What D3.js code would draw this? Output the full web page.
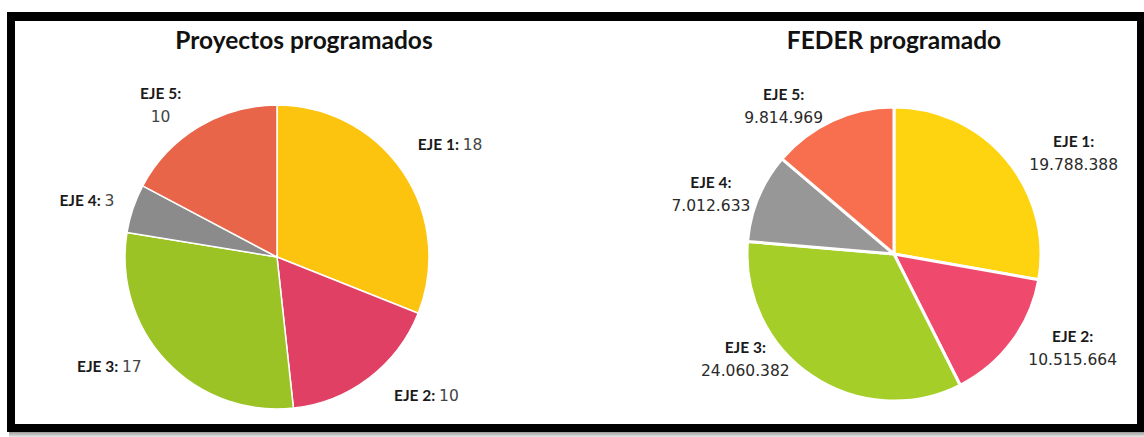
<!DOCTYPE html>
<html><head><meta charset="utf-8">
<script src="https://cdn.jsdelivr.net/npm/d3@7"></script>
<style>html,body{margin:0;padding:0;background:#fff;}svg{display:block;}</style>
</head><body>
<svg id="c" width="1144" height="437"></svg>
<script>
// ---- data ----
const categories = ["EJE 1", "EJE 2", "EJE 3", "EJE 4", "EJE 5"];
const proyectos = [18, 10, 17, 3, 10];
const feder = [19788388, 10515664, 24060382, 7012633, 9814969];
const titles = ["Proyectos programados", "FEDER programado"];
const colorsLeft = ["#FCC40E", "#E04064", "#9BC325", "#8B8B8B", "#E8654A"];
const colorsRight = ["#FED310", "#EF4A6E", "#A5CE28", "#979797", "#F76F4F"];

// ---- layout (not data) ----
const labelNudgeLeft = [[7, 1], [28, -21], [-22, -28], [0, 8], [-13, 20]];
const labelNudgeRight = [[31, 24], [23, -22], [-40, -56], [-4, 15], [-29, 28]];

const svg = d3.select("#c");
// shadow + frame
const g0 = svg.append("defs").append("linearGradient").attr("id","sh").attr("x1",0).attr("y1",0).attr("x2",0).attr("y2",1);
g0.append("stop").attr("offset","0").attr("stop-color","#9a9a9a");
g0.append("stop").attr("offset","1").attr("stop-color","#e8e8e8");
svg.append("rect").attr("x",9).attr("y",432).attr("width",1135).attr("height",5).attr("fill","url(#sh)");
svg.append("rect").attr("x",7).attr("y",12).attr("width",1137).attr("height",420).attr("fill","#000");
svg.append("rect").attr("x",15).attr("y",21).attr("width",1122).attr("height",403).attr("fill","#fff");

const fmt = d3.format(",d");
const fmtES = v => fmt(v).replace(/,/g, ".");

function drawPie(opts) {
  const {cx, cy, r, values, colors, title, titleX, nudge, twoLine, strokeW, valueColor} = opts;
  const pie = d3.pie().sort(null).value(d => d)(values);
  const arc = d3.arc().innerRadius(0).outerRadius(r);
  const labArc = d3.arc().innerRadius(r * 1.32).outerRadius(r * 1.32);
  const g = svg.append("g").attr("transform", `translate(${cx},${cy})`);
  g.selectAll("path.s").data(pie).join("path")
    .attr("class","s")
    .attr("d", arc)
    .attr("fill", (d, i) => colors[i])
    .attr("stroke", "#fff")
    .attr("stroke-width", strokeW)
    .attr("stroke-linejoin", "round");

  svg.append("text").attr("x", titleX).attr("y", 49)
    .attr("text-anchor","middle")
    .attr("font-family","Lato, 'Open Sans', sans-serif")
    .attr("font-weight","bold").attr("font-size", 24.5)
    .attr("fill","#111").text(title);

  pie.forEach((d, i) => {
    const [px, py] = labArc.centroid(d);
    const x = px + nudge[i][0], y = py + nudge[i][1];
    const t = g.append("text").attr("text-anchor","middle");
    const tl = twoLine[i];
    if (tl) {
      t.append("tspan").attr("x", x).attr("y", y - 6)
        .attr("font-family","Lato, sans-serif").attr("font-weight","bold")
        .attr("font-size", 15.5).attr("fill","#1a1a1a")
        .text(categories[i] + ":");
      t.append("tspan").attr("x", x).attr("y", y + 17)
        .attr("font-family","'DejaVu Sans', sans-serif")
        .attr("font-size", 15.5).attr("fill", valueColor)
        .text(fmtES(values[i]));
    } else {
      t.attr("x", x).attr("y", y + 5);
      t.append("tspan")
        .attr("font-family","Lato, sans-serif").attr("font-weight","bold")
        .attr("font-size", 15.5).attr("fill","#1a1a1a")
        .text(categories[i] + ": ");
      t.append("tspan")
        .attr("font-family","'DejaVu Sans', sans-serif")
        .attr("font-size", 15.5).attr("fill", valueColor)
        .text(fmtES(values[i]));
    }
  });
}

drawPie({cx: 277, cy: 257, r: 152, values: proyectos, colors: colorsLeft,
  title: titles[0], titleX: 304, nudge: labelNudgeLeft,
  twoLine: [false, false, false, false, true], strokeW: 1.5, valueColor: "#444"});
drawPie({cx: 894, cy: 254, r: 147, values: feder, colors: colorsRight,
  title: titles[1], titleX: 894, nudge: labelNudgeRight,
  twoLine: [true, true, true, true, true], strokeW: 3, valueColor: "#2a2a2a"});
</script>
</body></html>
